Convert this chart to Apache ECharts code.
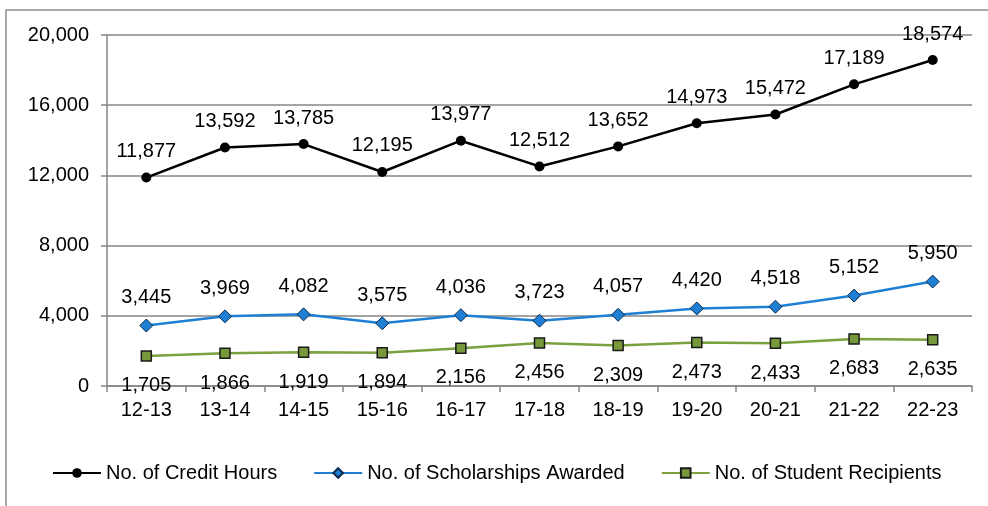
<!DOCTYPE html>
<html><head><meta charset="utf-8">
<script src="https://cdn.jsdelivr.net/npm/echarts@6/dist/echarts.min.js"></script>
<style>html,body{margin:0;padding:0;background:#fff}#c{width:988px;height:506px}</style>
</head><body><div id="c"></div>
<script>
const categories = ['12-13','13-14','14-15','15-16','16-17','17-18','18-19','19-20','20-21','21-22','22-23'];
const creditHours = [11877,13592,13785,12195,13977,12512,13652,14973,15472,17189,18574];
const scholarships = [3445,3969,4082,3575,4036,3723,4057,4420,4518,5152,5950];
const recipients = [1705,1866,1919,1894,2156,2456,2309,2473,2433,2683,2635];
const yTicks = [0,4000,8000,12000,16000,20000];

const fmt = v => v.toLocaleString('en-US');
const font = 'Liberation Sans, Arial, sans-serif';
const FS = 20;
const chart = echarts.init(document.getElementById('c'));
chart.setOption({
  animation: false,
  textStyle: {fontFamily: font},
  graphic: [{type:'rect', shape:{x:6,y:10,width:1000,height:520}, style:{fill:'none', stroke:'#8c8c8c', lineWidth:1.5}, silent:true}],
  grid: {left:107, right:16, top:35, bottom:120, containLabel:false},
  legend: {
    top: 458, left: 47, itemWidth: 48, itemHeight: 12, itemGap: 36,
    textStyle: {fontSize: 20, color:'#000', fontFamily: font},
    data: ['No. of Credit Hours','No. of Scholarships Awarded','No. of Student Recipients']
  },
  xAxis: {
    type:'category', data: categories, boundaryGap: true,
    axisLine:{lineStyle:{color:'#868686', width:1.5}},
    axisTick:{show:true, length:6, lineStyle:{color:'#868686', width:1.5}},
    axisLabel:{fontSize:FS, color:'#000', margin:14}
  },
  yAxis: {
    type:'value', min: yTicks[0], max: yTicks[yTicks.length-1], interval: 4000,
    axisLine:{show:true, lineStyle:{color:'#868686', width:1.5}},
    axisTick:{show:true, length:6, inside:false, lineStyle:{color:'#868686', width:1.5}},
    splitLine:{lineStyle:{color:'#868686', width:1.5}},
    axisLabel:{fontSize:FS, color:'#000', margin:18, formatter: v => fmt(v)}
  },
  series: [
    {name:'No. of Credit Hours', type:'line', data: creditHours,
      symbol:'circle', symbolSize:10,
      lineStyle:{color:'#000', width:2.5}, itemStyle:{color:'#000'},
      label:{show:true, position:'top', distance:11, fontSize:FS, color:'#000', formatter: p => fmt(p.value)}},
    {name:'No. of Scholarships Awarded', type:'line', data: scholarships,
      symbol:'diamond', symbolSize:13,
      lineStyle:{color:'#1f7fd4', width:2.5}, itemStyle:{color:'#1f7fd4', borderColor:'#0a2a4a', borderWidth:1},
      label:{show:true, position:'top', distance:11, fontSize:FS, color:'#000', formatter: p => fmt(p.value)}},
    {name:'No. of Student Recipients', type:'line', data: recipients,
      symbol:'rect', symbolSize:10,
      lineStyle:{color:'#7aa040', width:2.5}, itemStyle:{color:'#77993c', borderColor:'#1a1a1a', borderWidth:1.5},
      label:{show:true, position:'bottom', distance:14, fontSize:FS, color:'#000', formatter: p => fmt(p.value)}}
  ]
});
</script></body></html>
